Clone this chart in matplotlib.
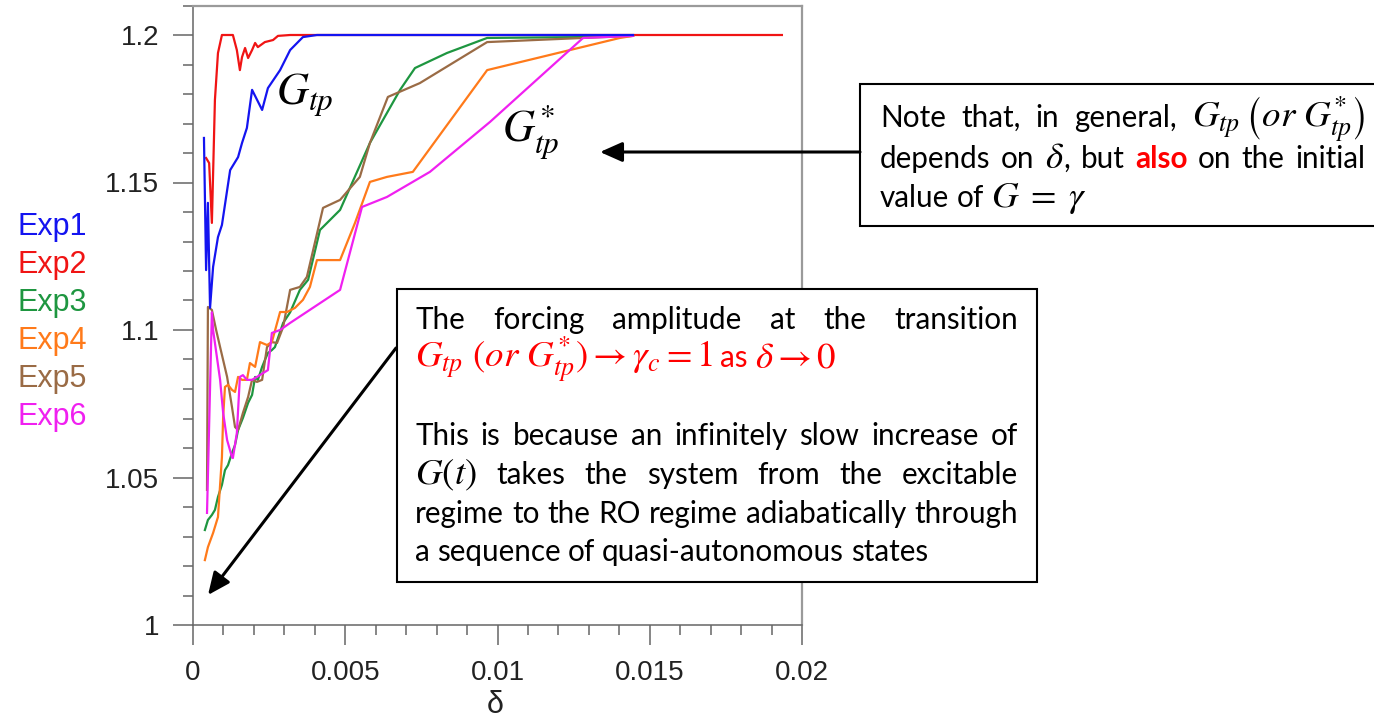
import matplotlib
matplotlib.use("Agg")
import matplotlib.pyplot as plt
from matplotlib.patches import Rectangle, FancyArrowPatch
from matplotlib.ticker import FixedLocator

plt.rcParams['mathtext.fontset'] = 'stix'

# ---- data: transition forcing amplitude vs ramp rate delta ----
delta_exp1 = [0.00036, 0.00043, 0.00049, 0.00056, 0.00066, 0.00082, 0.00095, 0.00122,
              0.00148, 0.00161, 0.00177, 0.00194, 0.00227, 0.00246, 0.00286, 0.00319,
              0.00361, 0.00407, 0.01445]
g_exp1 = [1.1651, 1.1203, 1.1431, 1.1075, 1.1214, 1.1315, 1.1356, 1.1542,
          1.1586, 1.1634, 1.1685, 1.1814, 1.1746, 1.1820, 1.1881, 1.1949,
          1.1993, 1.2000, 1.2000]

delta_exp2 = [0.00043, 0.00053, 0.00062, 0.00072, 0.00082, 0.00095, 0.00131, 0.00144,
              0.00154, 0.00161, 0.00171, 0.00181, 0.00194, 0.00204, 0.00213, 0.00236,
              0.00263, 0.00279, 0.00319, 0.01934]
g_exp2 = [1.1583, 1.1566, 1.1363, 1.1780, 1.1939, 1.2000, 1.2000, 1.1949,
          1.1881, 1.1925, 1.1956, 1.1922, 1.1949, 1.1973, 1.1959, 1.1976,
          1.1983, 1.1997, 1.2000, 1.2000]

delta_exp3 = [0.00039, 0.00049, 0.00062, 0.00072, 0.00082, 0.00095, 0.00105, 0.00115,
              0.00128, 0.00138, 0.00148, 0.00164, 0.00181, 0.00194, 0.00204, 0.00213,
              0.00227, 0.00236, 0.00246, 0.00259, 0.00269, 0.00296, 0.00319, 0.00351,
              0.00378, 0.00417, 0.00483, 0.00581, 0.00680, 0.00729, 0.00834, 0.00966,
              0.01281, 0.01445]
g_exp3 = [1.0322, 1.0356, 1.0373, 1.0390, 1.0434, 1.0475, 1.0525, 1.0542,
          1.0583, 1.0610, 1.0661, 1.0702, 1.0753, 1.0780, 1.0841, 1.0831,
          1.0875, 1.0898, 1.0922, 1.0932, 1.0942, 1.1024, 1.1060, 1.1136,
          1.1170, 1.1339, 1.1407, 1.1634, 1.1814, 1.1888, 1.1939, 1.1990,
          1.1993, 1.1997]

delta_exp4 = [0.00039, 0.00049, 0.00066, 0.00082, 0.00095, 0.00099, 0.00105, 0.00115,
              0.00128, 0.00138, 0.00148, 0.00161, 0.00177, 0.00187, 0.00204, 0.00220,
              0.00243, 0.00259, 0.00286, 0.00309, 0.00335, 0.00361, 0.00384, 0.00407,
              0.00483, 0.00532, 0.00581, 0.00637, 0.00722, 0.00966, 0.01402, 0.01445]
g_exp4 = [1.0220, 1.0264, 1.0312, 1.0366, 1.0569, 1.0705, 1.0807, 1.0814,
          1.0797, 1.0790, 1.0841, 1.0831, 1.0831, 1.0888, 1.0875, 1.0959,
          1.0949, 1.0959, 1.1061, 1.1061, 1.1075, 1.1102, 1.1146, 1.1237,
          1.1237, 1.1363, 1.1502, 1.1519, 1.1536, 1.1881, 1.1990, 1.1997]

delta_exp5 = [0.00046, 0.00049, 0.00062, 0.00076, 0.00089, 0.00112, 0.00128, 0.00138,
              0.00148, 0.00164, 0.00181, 0.00194, 0.00210, 0.00227, 0.00243, 0.00259,
              0.00276, 0.00296, 0.00319, 0.00351, 0.00374, 0.00427, 0.00483, 0.00548,
              0.00581, 0.00640, 0.00745, 0.00966, 0.01281, 0.01445]
g_exp5 = [1.0458, 1.1078, 1.1068, 1.1000, 1.0942, 1.0841, 1.0739, 1.0671,
          1.0661, 1.0719, 1.0773, 1.0831, 1.0824, 1.0831, 1.0942, 1.0959,
          1.0956, 1.1010, 1.1136, 1.1146, 1.1180, 1.1414, 1.1441, 1.1519,
          1.1634, 1.1790, 1.1837, 1.1976, 1.1990, 1.1997]

delta_exp6 = [0.00046, 0.00062, 0.00066, 0.00072, 0.00089, 0.00099, 0.00112, 0.00128,
              0.00131, 0.00144, 0.00154, 0.00164, 0.00177, 0.00194, 0.00210, 0.00230,
              0.00246, 0.00259, 0.00286, 0.00319, 0.00483, 0.00555, 0.00637, 0.00778,
              0.00975, 0.01281, 0.01445]
g_exp6 = [1.0380, 1.1060, 1.1000, 1.0956, 1.0831, 1.0719, 1.0627, 1.0569,
          1.0566, 1.0651, 1.0841, 1.0847, 1.0831, 1.0831, 1.0841, 1.0854,
          1.0864, 1.0990, 1.1000, 1.1024, 1.1136, 1.1417, 1.1451, 1.1536,
          1.1705, 1.1990, 1.1997]

exp_names = ["Exp1", "Exp2", "Exp3", "Exp4", "Exp5", "Exp6"]
exp_colors = ["#1414f0", "#f01414", "#1e9640", "#ff7a1a", "#9a6b45", "#f020f0"]
series = [(delta_exp1, g_exp1), (delta_exp2, g_exp2), (delta_exp3, g_exp3),
          (delta_exp4, g_exp4), (delta_exp5, g_exp5), (delta_exp6, g_exp6)]

x_ticks = [0, 0.005, 0.01, 0.015, 0.02]
x_tick_labels = ["0", "0.005", "0.01", "0.015", "0.02"]
y_ticks = [1, 1.05, 1.1, 1.15, 1.2]
y_tick_labels = ["1", "1.05", "1.1", "1.15", "1.2"]

# ---- figure in pixel units ----
W, H = 1374, 719
fig = plt.figure(figsize=(W / 100, H / 100), dpi=100)


def fx(px):
    return px / W


def fy(py):
    return 1 - py / H


ax = fig.add_axes([fx(193), fy(625), (802 - 193) / W, (625 - 5.5) / H])
ax.set_xlim(0, 0.02)
ax.set_ylim(1, 1.21)

draw_order = [1, 2, 4, 3, 5, 0]
for i in draw_order:
    d, g = series[i]
    ax.plot(d, g, color=exp_colors[i], lw=1.6, solid_joinstyle='round', zorder=2 + draw_order.index(i))

ax.xaxis.set_major_locator(FixedLocator(x_ticks))
ax.set_xticklabels(x_tick_labels)
ax.xaxis.set_minor_locator(FixedLocator([round(0.001 * i, 3) for i in range(21)]))
ax.yaxis.set_major_locator(FixedLocator(y_ticks))
ax.set_yticklabels(y_tick_labels)
ax.yaxis.set_minor_locator(FixedLocator([round(1 + 0.01 * i, 2) for i in range(22)]))

tick_font = dict(family="Liberation Sans", size=20, color="#222222")
for lab in ax.get_xticklabels() + ax.get_yticklabels():
    lab.set_fontfamily(tick_font["family"])
    lab.set_fontsize(tick_font["size"])
    lab.set_color(tick_font["color"])

ax.tick_params(which="major", length=14.4, width=1.1, color="#666666", direction="out")
ax.tick_params(which="minor", length=7.2, width=1.1, color="#666666", direction="out")
ax.tick_params(axis="y", which="major", pad=10)
ax.tick_params(axis="x", which="major", pad=11)
for side in ("left", "bottom"):
    ax.spines[side].set_color("#666666")
    ax.spines[side].set_linewidth(1.1)
for side in ("top", "right"):
    ax.spines[side].set_color("#9a9a9a")
    ax.spines[side].set_linewidth(1.6)

fig.text(fx(495), fy(705), "δ", family="Liberation Sans", size=22, ha="center", va="center", color="#222222")

# series names as coloured labels on the left
label_y = [227, 265, 303, 341, 379, 417]
for name, col, yy in zip(exp_names, exp_colors, label_y):
    fig.text(fx(17), fy(yy), name, family="Liberation Sans", size=22, color=col, ha="left", va="center")

# curve group labels
fig.text(fx(276), fy(104), r"$G_{tp}$", size=32, ha="left", va="baseline")
fig.text(fx(502), fy(141), r"$G^{*}_{tp}$", size=32, ha="left", va="baseline")

# ---- annotation boxes ----
fig.add_artist(Rectangle((fx(860), fy(226)), (1400 - 860) / W, (226 - 84) / H,
                         transform=fig.transFigure, facecolor="white", edgecolor="black", lw=1.5, zorder=5))
fig.add_artist(Rectangle((fx(397), fy(582)), (1037 - 397) / W, (582 - 289) / H,
                         transform=fig.transFigure, facecolor="white", edgecolor="black", lw=1.5, zorder=5))

renderer = fig.canvas.get_renderer()
body_family = "Lato"

# choose body size so a reference line has the wanted width
probe = fig.text(0, 0, "a sequence of quasi-autonomous states", family=body_family, size=20)
probe_w = probe.get_window_extent(renderer).width
probe.remove()
body_size = 20 * 515 / probe_w
math_size = body_size * 1.25
space_px = 0.24 * body_size * 100 / 72


def M(s, **kw):
    """A math token, set a little larger than the body text."""
    kw.setdefault("size", math_size)
    return (s, kw)


def place_line(tokens, x0, y, x1=None, color="black"):
    """Lay out word tokens on one baseline; justify between x0 and x1 if given.
    A token whose style has glue=True sits directly after the previous one."""
    texts, glued = [], []
    for tok in tokens:
        if isinstance(tok, tuple):
            s, kw = tok
        else:
            s, kw = tok, {}
        kw = dict(kw)
        glued.append(kw.pop("glue", False))
        kw.setdefault("color", color)
        kw.setdefault("size", body_size)
        t = fig.text(fx(x0), fy(y), s, family=body_family,
                     ha="left", va="baseline", zorder=6, **kw)
        texts.append(t)
    widths = [t.get_window_extent(renderer).width for t in texts]
    n_gaps = sum(1 for g in glued[1:] if not g)
    if x1 is None or n_gaps == 0:
        gap = space_px
    else:
        gap = (x1 - x0 - sum(widths)) / n_gaps
    x = x0
    for k, (t, w) in enumerate(zip(texts, widths)):
        if k > 0:
            x += 0 if glued[k] else gap
        t.set_x(fx(x))
        x += w


# upper right box
place_line(["Note", "that,", "in", "general,", M(r"$G_{tp}\,\left(or\ G^{*}_{tp}\right)$")], 880, 127, 1365)
place_line(["depends", "on", M(r"$\delta$"), (",", dict(glue=True)), "but",
            ("also", dict(color="#ff0000", weight="bold")), "on", "the", "initial"], 880, 168, 1365)
place_line(["value", "of", M(r"$G\;=\;\gamma$")], 880, 207)

# lower box
red = "#ff0000"
place_line(["The", "forcing", "amplitude", "at", "the", "transition"], 415, 329, 1018)
place_line([M(r"$G_{tp}\ (or\ G^{*}_{tp}) \rightarrow \gamma_c = 1$"), "as", M(r"$\delta \rightarrow 0$")],
           415, 367, color=red)
place_line(["This", "is", "because", "an", "infinitely", "slow", "increase", "of"], 415, 445, 1018)
place_line([M(r"$G(t)$"), "takes", "the", "system", "from", "the", "excitable"], 415, 484, 1018)
place_line(["regime", "to", "the", "RO", "regime", "adiabatically", "through"], 415, 523, 1018)
place_line(["a", "sequence", "of", "quasi-autonomous", "states"], 415, 561)

# ---- arrows ----
for (xa, ya), (xb, yb) in [((860, 152), (600, 152)), ((396, 348), (208, 595))]:
    fig.add_artist(FancyArrowPatch((fx(xa), fy(ya)), (fx(xb), fy(yb)), transform=fig.transFigure,
                                   arrowstyle="-|>,head_length=0.45,head_width=0.2", mutation_scale=30,
                                   lw=2.2, color="black", shrinkA=0, shrinkB=0, zorder=7))

fig.savefig("out.png", dpi=100)
